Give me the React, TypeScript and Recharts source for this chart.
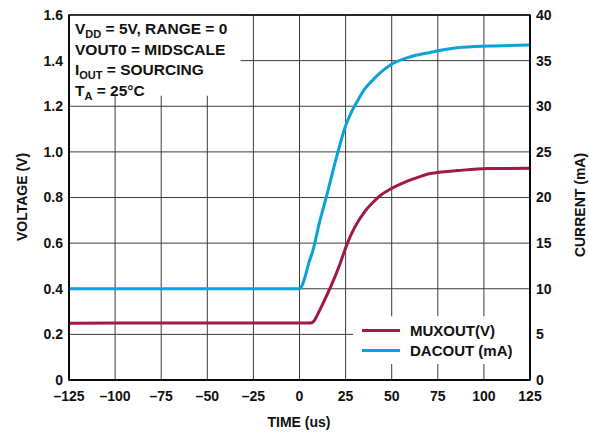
import React from 'react'
import {
  LineChart, Line, XAxis, YAxis, CartesianGrid, ReferenceArea,
} from 'recharts'

// MUXOUT trace, left axis (V)
const muxTime = [-125, -60, 0, 6, 8, 10, 13, 17, 22, 26, 30, 35, 40, 44, 50, 55, 63, 71, 86, 102, 125]
const muxVolts = [0.249, 0.25, 0.25, 0.25, 0.26, 0.29, 0.34, 0.41, 0.51, 0.6, 0.67, 0.734, 0.78, 0.81, 0.84, 0.86, 0.885, 0.905, 0.918, 0.927, 0.928]

// DACOUT trace, right axis (mA)
const dacTime = [-125, -60, 0, 1.5, 3, 5, 7.3, 11, 15, 18, 21, 24.7, 28, 31.2, 35, 39.9, 44, 49.1, 58.3, 70.8, 85.4, 103, 125]
const dacCurrent = [10, 10, 10, 10.4, 11.3, 12.8, 14.2, 17.4, 20.4, 22.8, 25.1, 27.7, 29.3, 30.5, 31.8, 32.9, 33.7, 34.5, 35.3, 35.9, 36.4, 36.6, 36.7]

const timeTicks = [-125, -100, -75, -50, -25, 0, 25, 50, 75, 100, 125]
const voltTicks = [0, 0.2, 0.4, 0.6, 0.8, 1.0, 1.2, 1.4, 1.6]
const currentTicks = [0, 5, 10, 15, 20, 25, 30, 35, 40]

const RED = '#a01a42'
const BLUE = '#0aa2da'
const FONT = '"Liberation Sans", Arial, sans-serif'

const muxData = muxTime.map((t, i) => ({ t, v: muxVolts[i] }))
const dacData = dacTime.map((t, i) => ({ t, ma: dacCurrent[i] }))

const tickStyle = { fontSize: 14, fontWeight: 700, fill: '#111', fontFamily: FONT }
const textStyle: React.CSSProperties = { position: 'absolute', fontFamily: FONT, fontWeight: 700, fontSize: 14, color: '#111', whiteSpace: 'nowrap' }
const subStyle: React.CSSProperties = { fontSize: 11, verticalAlign: 'baseline', position: 'relative', top: 4, lineHeight: 0 }

const legendItems = [
  { label: 'MUXOUT(V)', color: RED },
  { label: 'DACOUT (mA)', color: BLUE },
]

export default function App() {
  return (
    <div style={{ position: 'absolute', left: 0, top: 0, width: 589, height: 433, background: '#fff' }}>
      <LineChart width={589} height={433} margin={{ top: 15, right: 0, bottom: 23, left: 0 }}>
        <CartesianGrid stroke="#3c3c3c" strokeWidth={1} yAxisId="v" />
        <XAxis
          dataKey="t"
          type="number"
          domain={[-125, 125]}
          ticks={timeTicks}
          allowDuplicatedCategory={false}
          height={30}
          tickLine={false}
          tickSize={6}
          tickMargin={5}
          axisLine={{ stroke: '#000', strokeWidth: 1.5 }}
          tick={tickStyle}
          interval={0}
          tickFormatter={(v: number) => String(v).replace('-', '\u2013')}
        />
        <YAxis
          yAxisId="v"
          orientation="left"
          width={69}
          domain={[0, 1.6]}
          ticks={voltTicks}
          interval={0}
          tickLine={false}
          tickSize={6}
          tickMargin={0}
          axisLine={{ stroke: '#000', strokeWidth: 1.5 }}
          tick={tickStyle}
          tickFormatter={(v: number) => (v === 0 ? '0' : v.toFixed(1))}
        />
        <YAxis
          yAxisId="ma"
          orientation="right"
          width={59}
          domain={[0, 40]}
          ticks={currentTicks}
          interval={0}
          tickLine={false}
          tickSize={6}
          tickMargin={0}
          axisLine={{ stroke: '#000', strokeWidth: 1.5 }}
          tick={tickStyle}
        />
        <ReferenceArea yAxisId="v" x1={-125} x2={-32} y1={1.246} y2={1.6} fill="#fff" fillOpacity={1} stroke="none" />
        <ReferenceArea yAxisId="v" x1={29} x2={125} y1={0.07} y2={0.28} fill="#fff" fillOpacity={1} stroke="none" />
        <ReferenceArea yAxisId="v" x1={-125} x2={125} y1={0} y2={1.6} fill="none" stroke="#000" strokeWidth={1.5} />
        <Line
          yAxisId="v"
          data={muxData}
          dataKey="v"
          name="MUXOUT(V)"
          type="monotone"
          stroke={RED}
          strokeWidth={3}
          dot={false}
          isAnimationActive={false}
        />
        <Line
          yAxisId="ma"
          data={dacData}
          dataKey="ma"
          name="DACOUT (mA)"
          type="monotone"
          stroke={BLUE}
          strokeWidth={3}
          dot={false}
          isAnimationActive={false}
        />
      </LineChart>

      <div style={{ ...textStyle, left: 362, top: 320, fontSize: 15 }}>
        {legendItems.map(it => (
          <div key={it.label} style={{ display: 'flex', alignItems: 'center', height: 20 }}>
            <span style={{ display: 'inline-block', width: 38, height: 3, background: it.color, marginRight: 10 }} />
            {it.label}
          </div>
        ))}
      </div>

      <div style={{ ...textStyle, left: 75, top: 19, fontSize: 15.5, lineHeight: '20.5px' }}>
        <div>V<sub style={subStyle}>DD</sub> = 5V, RANGE = 0</div>
        <div>VOUT0 = MIDSCALE</div>
        <div>I<sub style={subStyle}>OUT</sub> = SOURCING</div>
        <div>T<sub style={subStyle}>A</sub> = 25°C</div>
      </div>

      <div style={{ ...textStyle, left: 22, top: 197, transform: 'translate(-50%, -50%) rotate(-90deg)' }}>
        VOLTAGE (V)
      </div>
      <div style={{ ...textStyle, left: 580, top: 205, transform: 'translate(-50%, -50%) rotate(-90deg)' }}>
        CURRENT (mA)
      </div>
      <div style={{ ...textStyle, left: 299, top: 422, transform: 'translate(-50%, -50%)' }}>
        TIME (us)
      </div>
    </div>
  )
}
